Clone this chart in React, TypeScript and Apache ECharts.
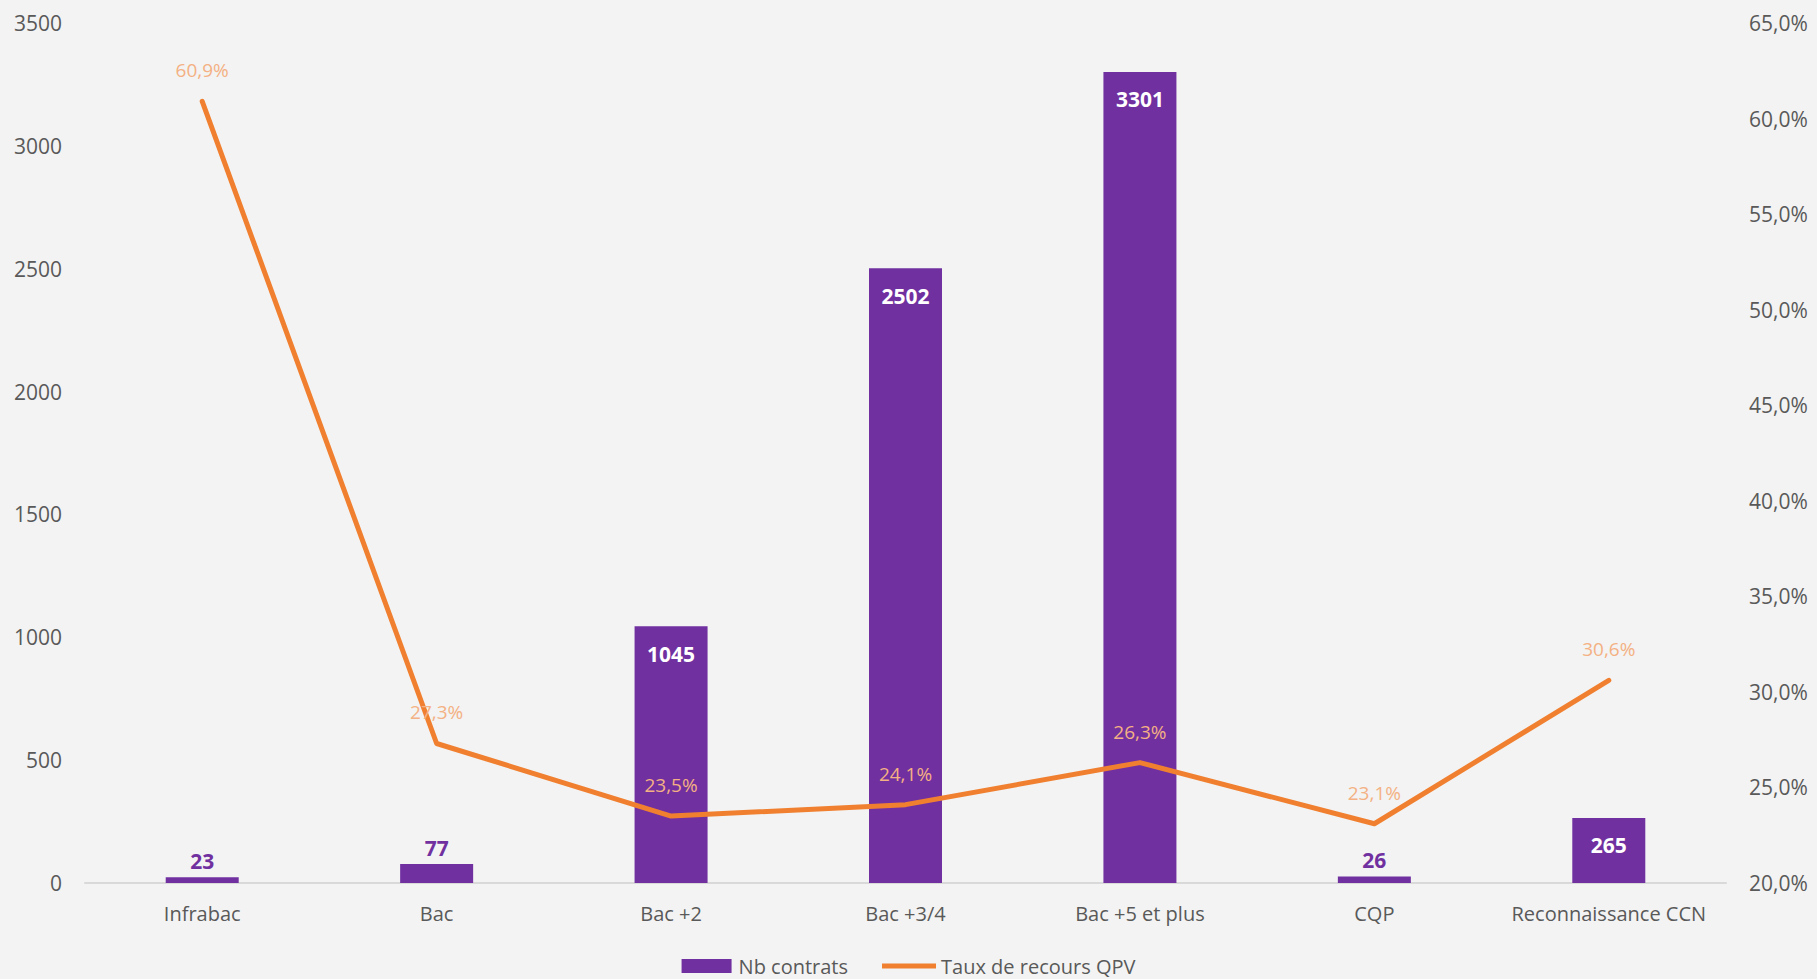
import React, { useEffect, useRef } from "react";
import * as echarts from "echarts";

const categories = ["Infrabac", "Bac", "Bac +2", "Bac +3/4", "Bac +5 et plus", "CQP", "Reconnaissance CCN"];
const nbContrats = [23, 77, 1045, 2502, 3301, 26, 265];
const tauxQPV = [60.9, 27.3, 23.5, 24.1, 26.3, 23.1, 30.6];

const FONT = "'Open Sans', 'Noto Sans', sans-serif";
const PURPLE = "#7030A0";
const ORANGE = "#F08030";
const TEXT = "#595959";

const fmtPct = (v: number) => v.toFixed(1).replace(".", ",") + "%";

export default function App() {
  const ref = useRef<HTMLDivElement>(null);
  useEffect(() => {
    document.body.style.margin = "0";
    document.body.style.background = "#F3F3F3";
    if (!ref.current) return;
    const chart = echarts.init(ref.current, undefined, { renderer: "svg" });
    chart.setOption({
      animation: false,
      backgroundColor: "#F3F3F3",
      textStyle: { fontFamily: FONT },
      grid: { left: 85, right: 91, top: 23, bottom: 96 },
      legend: {
        top: 951,
        left: "center",
        itemGap: 34,
        itemWidth: 54,
        itemHeight: 14,
        symbolKeepAspect: true,
        textStyle: { fontFamily: FONT, fontSize: 20, color: TEXT },
        data: [
          { name: "Nb contrats", icon: "path://M0,0 H50 V14 H0 Z", itemStyle: { color: PURPLE } },
          { name: "Taux de recours QPV", icon: "path://M0,0 H54 V5 H0 Z", itemStyle: { color: ORANGE } },
        ],
      },
      xAxis: {
        type: "category",
        data: categories,
        axisLine: { lineStyle: { color: "#D9D9D9", width: 2 } },
        axisTick: { show: false },
        axisLabel: { color: TEXT, fontSize: 20, fontFamily: FONT, margin: 20, interval: 0 },
      },
      yAxis: [
        {
          type: "value",
          min: 0,
          max: 3500,
          interval: 500,
          splitLine: { show: false },
          axisLine: { show: false },
          axisTick: { show: false },
          axisLabel: { color: TEXT, fontSize: 21, fontFamily: FONT, margin: 23, formatter: (v: number) => String(v) },
        },
        {
          type: "value",
          min: 20,
          max: 65,
          interval: 5,
          splitLine: { show: false },
          axisLine: { show: false },
          axisTick: { show: false },
          axisLabel: { color: TEXT, fontSize: 21, fontFamily: FONT, margin: 23, formatter: (v: number) => fmtPct(v) },
        },
      ],
      series: [
        {
          name: "Nb contrats",
          type: "bar",
          yAxisIndex: 0,
          barWidth: 73,
          itemStyle: { color: PURPLE },
          data: nbContrats.map((v) => ({
            value: v,
            label:
              v < 100
                ? { position: "top", color: PURPLE, distance: 6 }
                : { position: "insideTop", color: "#FFFFFF", distance: 17 },
          })),
          label: { show: true, fontFamily: FONT, fontWeight: "bold", fontSize: 21 },
        },
        {
          name: "Taux de recours QPV",
          type: "line",
          yAxisIndex: 1,
          data: tauxQPV,
          symbol: "circle",
          symbolSize: 1,
          showSymbol: true,
          lineStyle: { color: ORANGE, width: 5, cap: "round", join: "round" },
          itemStyle: { color: ORANGE },
          label: {
            show: true,
            position: "top",
            distance: 21,
            color: "#F4B183",
            fontFamily: FONT,
            fontSize: 19,
            formatter: (p: any) => fmtPct(p.value),
          },
        },
      ],
    });
    return () => chart.dispose();
  }, []);
  return <div ref={ref} style={{ width: 1817, height: 979 }} />;
}
